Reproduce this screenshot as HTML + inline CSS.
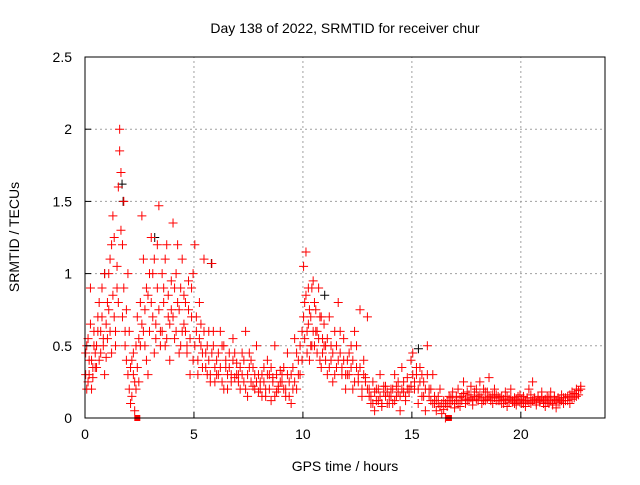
<!DOCTYPE html>
<html><head><meta charset="utf-8"><style>
body{margin:0;background:#fff}
text{font-family:"Liberation Sans",sans-serif;font-size:14px;fill:#000}
</style></head><body>
<svg id="chart" width="640" height="480" xmlns="http://www.w3.org/2000/svg">
<rect width="640" height="480" fill="#fff"/>
<g id="grid"></g>
<g id="marks"></g>
<rect x="85" y="57" width="520" height="361" fill="none" stroke="#000" stroke-width="1"/>
<g id="axes"></g>
<text x="345" y="33" text-anchor="middle">Day 138 of 2022, SRMTID for receiver chur</text>
<text x="345" y="471" text-anchor="middle">GPS time / hours</text>
<text transform="translate(19,237) rotate(-90)" text-anchor="middle">SRMTID / TECUs</text>
</svg>
<script>
const xTicks=[0,5,10,15,20];
const yTicks=[0,0.5,1,1.5,2,2.5];
const yTickLabels=["0","0.5","1","1.5","2","2.5"];
const redT=[0.03,0.08,0.14,0.19,0.25,0.3,0.36,0.41,0.47,
0.53,0.59,0.65,0.72,0.78,0.84,0.9,0.97,
1.03,1.09,1.15,1.22,1.28,1.34,1.4,1.47,
1.53,1.59,1.65,1.72,1.78,1.84,1.9,1.97,
2.03,2.09,2.15,2.22,2.28,2.34,2.4,2.47,
2.54,2.61,2.68,2.75,2.82,2.89,2.96,
3.04,3.11,3.18,3.25,3.32,3.39,3.46,
3.54,3.61,3.68,3.75,3.82,3.89,3.96,
4.04,4.11,4.18,4.25,4.32,4.39,4.46,
4.54,4.61,4.68,4.75,4.82,4.89,4.96,
5.04,5.11,5.18,5.25,5.32,5.39,5.46,
5.54,5.61,5.68,5.75,5.82,5.89,5.96,
6.04,6.12,6.21,6.29,6.37,6.46,6.54,6.62,6.71,6.79,6.87,6.96,
7.04,7.12,7.21,7.29,7.37,7.46,7.54,7.62,7.71,7.79,7.87,7.96,
8.04,8.12,8.21,8.29,8.37,8.46,8.54,8.62,8.71,8.79,8.87,8.96,
9.04,9.12,9.21,9.29,9.37,9.46,9.54,9.62,9.71,9.79,9.87,9.96,
10.03,10.08,10.14,10.19,10.25,10.3,10.36,10.41,10.47,
10.53,10.59,10.65,10.72,10.78,10.84,10.9,10.97,
11.04,11.12,11.21,11.29,11.37,11.46,11.54,11.62,11.71,11.79,11.87,11.96,
12.04,12.12,12.21,12.29,12.37,12.46,12.54,12.62,12.71,12.79,12.87,12.96,
13.04,13.12,13.21,13.29,13.37,13.46,13.54,13.62,13.71,13.79,13.87,13.96,
14.04,14.12,14.21,14.29,14.37,14.46,14.54,14.62,14.71,14.79,14.87,14.96,
15.04,15.12,15.21,15.29,15.37,15.46,15.54,15.62,15.71,15.79,15.87,15.96,
16.04,16.12,16.21,16.29,16.37,16.46,16.54,16.62,16.71,16.79,16.87,16.96,
17.04,17.12,17.21,17.29,17.37,17.46,17.54,17.62,17.71,17.79,17.87,17.96,
18.04,18.12,18.21,18.29,18.37,18.46,18.54,18.62,18.71,18.79,18.87,18.96,
19.04,19.12,19.21,19.29,19.37,19.46,19.54,19.62,19.71,19.79,19.87,19.96,
20.04,20.12,20.21,20.29,20.37,20.46,20.54,20.62,20.71,20.79,20.87,20.96,
21.04,21.12,21.21,21.29,21.37,21.46,21.54,21.62,21.71,21.79,21.87,21.96,
22.05,22.15,22.25,22.35,22.45,22.55,22.65,22.75];
const redV=[0.3,0.5,0.25,0.4,0.9,0.2,0.35,0.6,0.45,
0.5,0.7,0.4,0.6,0.9,0.55,0.3,0.65,
0.8,1.0,0.6,1.2,1.4,0.7,0.5,0.9,
1.6,2.0,1.7,1.2,0.9,0.6,0.4,1.0,
0.2,0.1,0.4,0.3,0.05,0.5,0.7,0.25,
0.8,1.4,0.6,0.5,0.9,0.3,1.0,
1.25,0.7,1.1,0.55,0.9,1.47,0.6,
1.0,0.8,0.5,1.2,0.7,0.4,0.95,
1.35,0.9,0.6,1.2,0.75,0.5,1.1,
0.85,0.6,0.45,0.95,0.3,0.7,1.0,
1.2,0.6,0.4,0.8,0.5,0.35,1.1,
0.45,0.3,0.6,0.25,1.07,0.5,0.35,
0.4,0.3,0.6,0.25,0.5,0.35,0.2,0.45,0.3,0.55,0.28,0.38,
0.3,0.2,0.45,0.25,0.6,0.15,0.35,0.4,0.22,0.3,0.5,0.18,
0.25,0.15,0.35,0.2,0.4,0.3,0.12,0.28,0.5,0.18,0.22,0.33,
0.3,0.2,0.15,0.45,0.25,0.1,0.35,0.55,0.2,0.4,0.3,0.6,
1.05,0.8,1.15,0.6,0.9,0.4,0.7,0.5,0.95,
0.8,0.6,0.45,0.9,0.7,0.35,0.55,0.65,
0.5,0.3,0.7,0.4,0.25,0.6,0.35,0.8,0.45,0.3,0.55,0.2,
0.4,0.3,0.5,0.2,0.6,0.35,0.25,0.75,0.15,0.4,0.28,0.7,
0.15,0.1,0.25,0.05,0.2,0.12,0.3,0.08,0.18,0.22,0.1,0.15,
0.2,0.1,0.3,0.15,0.25,0.05,0.35,0.18,0.12,0.28,0.2,0.4,
0.45,0.2,0.3,0.1,0.35,0.15,0.25,0.05,0.5,0.2,0.12,0.3,
0.15,0.05,0.1,0.2,0.03,0.12,0.0,0.08,0.15,0.1,0.18,0.07,
0.12,0.2,0.08,0.15,0.25,0.1,0.18,0.13,0.22,0.09,0.15,0.2,
0.15,0.25,0.1,0.2,0.12,0.18,0.28,0.14,0.1,0.2,0.16,0.12,
0.12,0.15,0.1,0.18,0.08,0.13,0.2,0.11,0.14,0.09,0.12,0.16,
0.1,0.15,0.08,0.12,0.2,0.1,0.25,0.13,0.09,0.15,0.11,0.18,
0.12,0.08,0.15,0.1,0.18,0.09,0.13,0.07,0.14,0.11,0.16,0.1,
0.12,0.15,0.1,0.18,0.14,0.2,0.16,0.22];
const redV2=[0.45,0.2,0.55,0.3,0.65,0.4,0.28,0.5,0.35,
0.35,0.6,0.8,0.45,0.7,0.5,1.0,0.42,
0.55,0.75,1.1,0.45,0.85,1.25,0.6,1.05,
0.8,1.85,1.3,0.7,1.5,0.5,0.75,0.3,
0.6,0.35,0.15,0.45,0.25,0.2,0.35,0.55,
0.5,0.65,1.1,0.75,0.4,0.85,0.6,
0.8,1.0,0.45,0.65,1.2,0.75,0.5,
0.6,0.9,1.1,0.55,0.85,0.65,0.75,
0.7,0.55,1.0,0.8,0.45,0.9,0.6,
0.65,0.8,0.5,0.75,0.55,0.9,0.4,
0.5,0.7,0.3,0.55,0.65,0.45,0.6,
0.35,0.5,0.4,0.3,0.45,0.6,0.25,
0.3,0.45,0.35,0.5,0.2,0.4,0.3,0.35,0.25,0.4,0.45,0.3,
0.25,0.35,0.3,0.4,0.2,0.3,0.45,0.25,0.35,0.2,0.25,0.3,
0.2,0.3,0.25,0.15,0.3,0.2,0.35,0.25,0.15,0.3,0.2,0.25,
0.25,0.35,0.2,0.3,0.15,0.3,0.2,0.25,0.45,0.3,0.5,0.4,
0.7,0.55,0.85,0.45,0.65,0.75,0.5,0.9,0.6,
0.5,0.75,0.6,0.55,0.4,0.7,0.45,0.5,
0.4,0.55,0.35,0.5,0.45,0.3,0.5,0.4,0.6,0.35,0.4,0.3,
0.3,0.45,0.35,0.4,0.25,0.5,0.3,0.35,0.2,0.3,0.25,0.2,
0.2,0.15,0.1,0.18,0.12,0.2,0.15,0.1,0.22,0.15,0.18,0.1,
0.15,0.2,0.12,0.22,0.18,0.15,0.2,0.25,0.15,0.2,0.18,0.22,
0.3,0.25,0.35,0.2,0.25,0.3,0.15,0.2,0.3,0.15,0.2,0.1,
0.1,0.12,0.15,0.08,0.1,0.06,0.1,0.12,0.1,0.14,0.12,0.1,
0.15,0.1,0.14,0.12,0.17,0.13,0.12,0.16,0.14,0.12,0.18,0.13,
0.12,0.16,0.14,0.12,0.18,0.13,0.15,0.12,0.16,0.14,0.12,0.15,
0.14,0.1,0.13,0.12,0.15,0.11,0.14,0.12,0.1,0.13,0.15,0.11,
0.13,0.1,0.12,0.14,0.11,0.16,0.12,0.14,0.11,0.13,0.12,0.14,
0.1,0.13,0.11,0.14,0.12,0.1,0.15,0.12,0.11,0.13,0.12,0.14,
0.14,0.12,0.16,0.13,0.17,0.15,0.19,0.2];
const blackT=[0.9,1.7,1.75,3.2,5.8,11.0,15.3];
const blackV=[1.0,1.62,1.5,1.25,1.07,0.85,0.48];
const squareT=[2.4,16.7];
const squareV=[0,0];

const NS="http://www.w3.org/2000/svg";
const X0=85,X1=608,Y0=418,Y1=57,XMAX=24,YMAX=2.5;
function xs(t){return X0+(X1-X0)*t/XMAX;}
function ys(v){return Y0-(Y0-Y1)*v/YMAX;}
function mk(tag,attrs,parent){const e=document.createElementNS(NS,tag);for(const k in attrs)e.setAttribute(k,attrs[k]);parent.appendChild(e);return e;}
const grid=document.getElementById('grid'),axes=document.getElementById('axes'),marks=document.getElementById('marks');
xTicks.forEach((t,i)=>{
  const x=xs(t);
  if(t>0){const g=mk('line',{x1:x,y1:Y0,x2:x,y2:Y1,stroke:'#a0a0a0','stroke-dasharray':'2,3'},grid);
  
  }
  const tk=mk('line',{x1:x,y1:Y0,x2:x,y2:Y0-6,stroke:'#000'},axes);
  
  
  const tx=mk('text',{x:x,y:Y0+21,'text-anchor':'middle'},axes);tx.textContent=String(t);
  
  
});
yTicks.forEach((v,i)=>{
  const y=ys(v);
  if(v>0&&v<YMAX){const g=mk('line',{x1:X0,y1:y,x2:605,y2:y,stroke:'#a0a0a0','stroke-dasharray':'2,3'},grid);
  
  }
  const tk=mk('line',{x1:X0,y1:y,x2:X0+6,y2:y,stroke:'#000'},axes);
  
  
  const tx=mk('text',{x:X0-13,y:y+5,'text-anchor':'end'},axes);tx.textContent=yTickLabels[i];
  
  
});
function plus(t,v,color,name){
  const x=xs(t),y=ys(v);
  const p=mk('path',{d:`M${x-4.5},${y}H${x+4.5}M${x},${y-4.5}V${y+4.5}`,stroke:color,'stroke-width':1,fill:'none'},marks);
  
  
}
blackT.forEach((t,i)=>plus(t,blackV[i],'#000','black-point'));
redT.forEach((t,i)=>plus(t,redV[i],'#ff0000','red-point'));
redT.forEach((t,i)=>plus(t,redV2[i],'#ff0000','red-point'));
squareT.forEach((t,i)=>{
  const s=mk('rect',{x:xs(t)-3,y:ys(squareV[i])-3,width:6,height:6,fill:'#ff0000'},marks);
  
  
});
</script>
</body></html>
